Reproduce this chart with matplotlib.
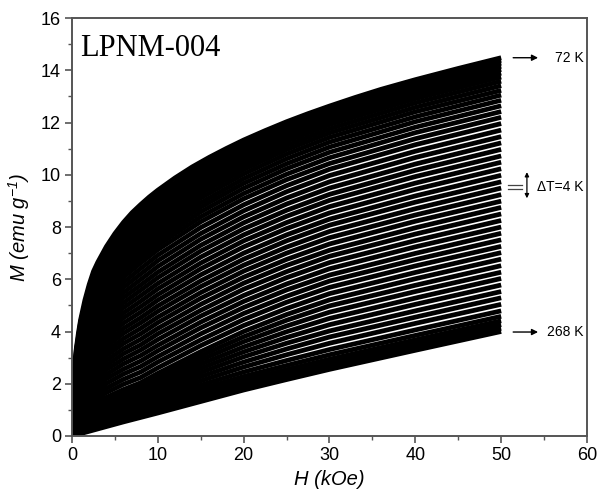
import numpy as np
import matplotlib
matplotlib.use('Agg')
import matplotlib.pyplot as plt

# isotherms M(H) of LPNM-004, 72 K ... 268 K every 4 K
temps = [72, 76, 80, 84, 88, 92, 96, 100, 104, 108, 112, 116, 120, 124, 128, 132, 136,
         140, 144, 148, 152, 156, 160, 164, 168, 172, 176, 180, 184, 188, 192, 196, 200,
         204, 208, 212, 216, 220, 224, 228, 232, 236, 240, 244, 248, 252, 256, 260, 264, 268]

# 72 K curve (upper envelope), read on a finer field grid
h_top = [0, 0.1, 0.2, 0.35, 0.5, 0.75, 1, 1.5, 2, 2.5, 3, 4, 5, 6, 7, 8, 9, 10, 12, 14, 16, 18,
         20, 22.5, 25, 27.5, 30, 33, 36, 40, 45, 50]
m_top = [0, 1.6, 2.3, 2.9, 3.35, 3.95, 4.45, 5.2, 5.8, 6.3, 6.65, 7.25, 7.75, 8.18, 8.55, 8.86, 9.15,
         9.41, 9.88, 10.3, 10.67, 11.01, 11.33, 11.69, 12.03, 12.34, 12.63, 12.96, 13.27, 13.64, 14.07, 14.48]

# 76 K ... 268 K, M (emu/g) read at each field value (kOe)
h_field = [0, 0.5, 1, 2, 4, 6, 8, 10, 15, 20, 25, 30, 40, 50]

m_h0 = [0.0] * (len(temps) - 1)
m_h0p5 = [3.28, 3.22, 3.15, 3.09, 3.02, 2.96, 2.89, 2.83, 2.76, 2.70, 2.63, 2.57, 2.50, 2.44,
          2.35, 2.27, 2.18, 2.10, 2.02, 1.93, 1.85, 1.76, 1.68, 1.59, 1.51, 1.42, 1.34, 1.25, 1.17,
          1.09, 1.00, 0.92, 0.83, 0.75, 0.66, 0.58, 0.54, 0.50, 0.45, 0.41, 0.37, 0.33, 0.29,
          0.25, 0.21, 0.16, 0.12, 0.08, 0.04]
m_h1 = [4.36, 4.28, 4.19, 4.11, 4.02, 3.94, 3.85, 3.76, 3.68, 3.59, 3.51, 3.42, 3.34, 3.25,
        3.14, 3.03, 2.92, 2.80, 2.69, 2.58, 2.47, 2.36, 2.25, 2.14, 2.02, 1.91, 1.80, 1.69, 1.58,
        1.47, 1.36, 1.24, 1.13, 1.02, 0.91, 0.80, 0.74, 0.69, 0.64, 0.58, 0.53, 0.47, 0.42,
        0.36, 0.31, 0.25, 0.20, 0.14, 0.09]
m_h2 = [5.69, 5.58, 5.47, 5.36, 5.25, 5.14, 5.03, 4.92, 4.81, 4.69, 4.58, 4.47, 4.36, 4.25,
        4.11, 3.97, 3.82, 3.68, 3.53, 3.39, 3.25, 3.10, 2.96, 2.82, 2.67, 2.53, 2.39, 2.24, 2.10,
        1.96, 1.81, 1.67, 1.53, 1.38, 1.24, 1.09, 1.02, 0.95, 0.88, 0.81, 0.74, 0.67, 0.60,
        0.53, 0.46, 0.39, 0.32, 0.25, 0.18]
m_h4 = [7.11, 6.98, 6.84, 6.71, 6.57, 6.44, 6.30, 6.17, 6.03, 5.89, 5.76, 5.62, 5.49, 5.35,
        5.18, 5.00, 4.82, 4.65, 4.47, 4.30, 4.12, 3.94, 3.77, 3.59, 3.42, 3.24, 3.07, 2.89, 2.71,
        2.54, 2.36, 2.19, 2.01, 1.83, 1.66, 1.48, 1.39, 1.31, 1.22, 1.14, 1.05, 0.96, 0.88,
        0.79, 0.70, 0.62, 0.53, 0.45, 0.36]
m_h6 = [8.03, 7.88, 7.73, 7.58, 7.43, 7.28, 7.13, 6.98, 6.83, 6.68, 6.53, 6.38, 6.23, 6.08,
        5.88, 5.69, 5.49, 5.30, 5.10, 4.91, 4.71, 4.52, 4.32, 4.12, 3.93, 3.73, 3.54, 3.34, 3.15,
        2.95, 2.76, 2.56, 2.37, 2.17, 1.98, 1.78, 1.69, 1.59, 1.50, 1.40, 1.31, 1.21, 1.11,
        1.02, 0.92, 0.83, 0.73, 0.64, 0.54]
m_h8 = [8.70, 8.54, 8.38, 8.22, 8.06, 7.90, 7.74, 7.58, 7.42, 7.26, 7.10, 6.94, 6.78, 6.62,
        6.41, 6.20, 5.99, 5.78, 5.58, 5.37, 5.16, 4.95, 4.74, 4.53, 4.33, 4.12, 3.91, 3.70, 3.49,
        3.29, 3.08, 2.87, 2.66, 2.45, 2.24, 2.04, 1.93, 1.83, 1.73, 1.63, 1.53, 1.42, 1.32,
        1.22, 1.12, 1.02, 0.91, 0.81, 0.71]
m_h10 = [9.26, 9.10, 8.94, 8.78, 8.62, 8.46, 8.30, 8.14, 7.97, 7.81, 7.64, 7.47, 7.31, 7.13,
         6.92, 6.71, 6.49, 6.27, 6.06, 5.84, 5.63, 5.41, 5.20, 4.98, 4.77, 4.55, 4.34, 4.12, 3.91,
         3.69, 3.47, 3.26, 3.04, 2.83, 2.61, 2.40, 2.28, 2.16, 2.04, 1.91, 1.79, 1.67, 1.55,
         1.43, 1.31, 1.20, 1.09, 0.99, 0.88]
m_h15 = [10.35, 10.21, 10.06, 9.91, 9.76, 9.60, 9.44, 9.28, 9.11, 8.93, 8.76, 8.58, 8.39, 8.20,
         7.98, 7.75, 7.53, 7.30, 7.08, 6.85, 6.62, 6.40, 6.17, 5.94, 5.72, 5.49, 5.27, 5.04, 4.81,
         4.59, 4.36, 4.14, 3.91, 3.68, 3.46, 3.23, 3.07, 2.91, 2.75, 2.59, 2.43, 2.27, 2.11,
         1.95, 1.80, 1.67, 1.55, 1.43, 1.32]
m_h20 = [11.21, 11.08, 10.95, 10.81, 10.67, 10.52, 10.36, 10.20, 10.03, 9.85, 9.67, 9.48, 9.28, 9.08,
         8.85, 8.62, 8.39, 8.16, 7.93, 7.70, 7.47, 7.24, 7.00, 6.77, 6.54, 6.31, 6.08, 5.85, 5.62,
         5.38, 5.15, 4.92, 4.69, 4.46, 4.23, 4.00, 3.80, 3.61, 3.41, 3.22, 3.03, 2.83, 2.64,
         2.45, 2.28, 2.13, 2.00, 1.87, 1.76]
m_h25 = [11.92, 11.81, 11.69, 11.56, 11.42, 11.28, 11.12, 10.96, 10.79, 10.61, 10.42, 10.23, 10.02, 9.81,
         9.58, 9.35, 9.11, 8.88, 8.64, 8.41, 8.17, 7.94, 7.70, 7.47, 7.23, 7.00, 6.76, 6.53, 6.29,
         6.06, 5.82, 5.59, 5.35, 5.12, 4.88, 4.65, 4.43, 4.21, 3.99, 3.77, 3.55, 3.33, 3.11,
         2.89, 2.70, 2.54, 2.40, 2.28, 2.16]
m_h30 = [12.53, 12.43, 12.32, 12.19, 12.06, 11.92, 11.76, 11.60, 11.43, 11.25, 11.06, 10.86, 10.65, 10.43, 10.21,
         9.97, 9.73, 9.49, 9.25, 9.02, 8.78, 8.54, 8.30, 8.07, 7.83, 7.59, 7.35, 7.11, 6.88, 6.64,
         6.40, 6.16, 5.93, 5.69, 5.45, 5.21, 4.98, 4.74, 4.50, 4.26, 4.02, 3.79, 3.55, 3.31,
         3.11, 2.94, 2.80, 2.67, 2.55]
m_h40 = [13.54, 13.43, 13.32, 13.19, 13.05, 12.91, 12.75, 12.58, 12.41, 12.22, 12.03, 11.82, 11.61, 11.38, 11.15,
         10.90, 10.66, 10.41, 10.17, 9.93, 9.68, 9.44, 9.19, 8.95, 8.70, 8.46, 8.22, 7.97, 7.73, 7.48,
         7.24, 6.99, 6.75, 6.51, 6.26, 6.02, 5.77, 5.53, 5.28, 5.04, 4.79, 4.55, 4.31, 4.06,
         3.85, 3.68, 3.54, 3.40, 3.28]
m_h50 = [14.38, 14.27, 14.15, 14.03, 13.89, 13.74, 13.58, 13.41, 13.23, 13.05, 12.85, 12.64, 12.42, 12.20, 11.96,
         11.71, 11.46, 11.22, 10.97, 10.72, 10.48, 10.23, 9.98, 9.73, 9.49, 9.24, 8.99, 8.75, 8.50, 8.25,
         8.00, 7.76, 7.51, 7.26, 7.02, 6.77, 6.52, 6.27, 6.03, 5.78, 5.53, 5.29, 5.04, 4.79,
         4.58, 4.41, 4.26, 4.12, 4.00]

m_table = np.column_stack([m_h0, m_h0p5, m_h1, m_h2, m_h4, m_h6, m_h8, m_h10,
                           m_h15, m_h20, m_h25, m_h30, m_h40, m_h50])

fig = plt.figure(figsize=(5.98, 4.95), dpi=100)
ax = fig.add_axes([0.1204, 0.1192, 0.8612, 0.8444])

line_kw = dict(color='black', lw=3.4, solid_capstyle='butt', solid_joinstyle='round')
ax.plot(h_top, m_top, **line_kw)
for row in m_table:
    ax.plot(h_field, row, **line_kw)

ax.set_xlim(0, 60)
ax.set_ylim(0, 16)
ax.set_xticks(range(0, 61, 10))
ax.set_xticks(range(5, 60, 10), minor=True)
ax.set_yticks(range(0, 17, 2))
ax.set_yticks(range(1, 16, 2), minor=True)

sans = 'Liberation Sans'
for lab in ax.get_xticklabels() + ax.get_yticklabels():
    lab.set_family(sans)
    lab.set_fontsize(13)
ax.tick_params(which='major', direction='out', length=5, width=1.2, color='#555555', pad=3)
ax.tick_params(which='minor', direction='out', length=3, width=1.0, color='#555555')
for sp in ax.spines.values():
    sp.set_color('#555555')
    sp.set_linewidth(1.4)

ax.set_xlabel('H (kOe)', family=sans, style='italic', fontsize=14.5, labelpad=4)
ax.set_ylabel(r'M (emu g$\mathregular{^{-1}}$)', family=sans, style='italic', fontsize=14.5, labelpad=6)

ax.text(0.95, 14.56, 'LPNM-004', family='Liberation Serif', fontsize=22, ha='left', va='baseline')

# right-hand annotations
arrow = dict(arrowstyle='-|>', color='black', lw=1.0, mutation_scale=9, shrinkA=0, shrinkB=0)
ax.annotate('', xy=(54.3, 14.48), xytext=(51.4, 14.48), arrowprops=arrow)
ax.text(59.6, 14.48, '72 K', family=sans, fontsize=10, ha='right', va='center')

ax.annotate('', xy=(54.3, 3.98), xytext=(51.4, 3.98), arrowprops=arrow)
ax.text(59.6, 3.98, '268 K', family=sans, fontsize=10, ha='right', va='center')

ax.plot([50.8, 52.4], [9.59, 9.59], color='#444444', lw=0.9)
ax.plot([50.8, 52.4], [9.45, 9.45], color='#444444', lw=0.9)
ax.annotate('', xy=(53.0, 10.1), xytext=(53.0, 9.1),
            arrowprops=dict(arrowstyle='<|-|>', color='black', lw=0.9, mutation_scale=6,
                            shrinkA=0, shrinkB=0))
ax.text(59.6, 9.55, '\u0394T=4 K', family=sans, fontsize=10, ha='right', va='center')

fig.savefig('out.png', dpi=100)
